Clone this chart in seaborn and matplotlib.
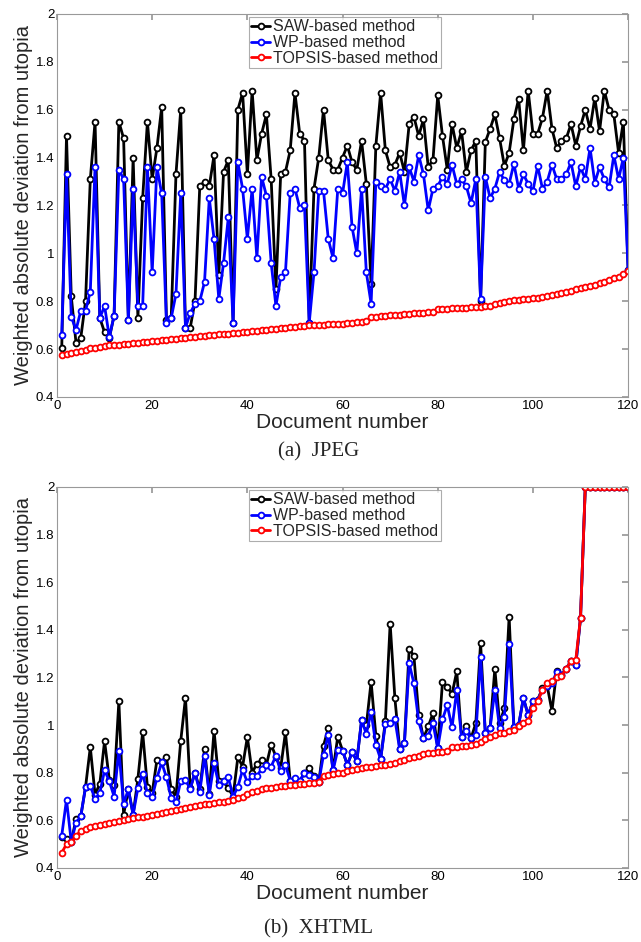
import numpy as np
import pandas as pd
import matplotlib
matplotlib.use('Agg')
import matplotlib.pyplot as plt
from matplotlib.ticker import FormatStrFormatter
import seaborn as sns

# document index 1..120
docs = list(range(1, 121))
methods = ['SAW-based method', 'WP-based method', 'TOPSIS-based method']
colors = ['black', 'blue', 'red']

# (a) JPEG
jpeg_saw = [0.605, 1.49, 0.82, 0.626, 0.647, 0.80, 1.31, 1.55, 0.73, 0.67,
            0.647, 0.74, 1.55, 1.48, 0.72, 1.40, 0.73, 1.23, 1.55, 1.31,
            1.44, 1.61, 0.72, 0.73, 1.33, 1.60, 0.69, 0.69, 0.80, 1.28,
            1.30, 1.28, 1.41, 0.91, 1.34, 1.39, 0.71, 1.60, 1.67, 1.33,
            1.68, 1.39, 1.50, 1.58, 1.31, 0.85, 1.33, 1.34, 1.43, 1.67,
            1.50, 1.47, 0.71, 1.27, 1.40, 1.60, 1.39, 1.35, 1.35, 1.40,
            1.45, 1.38, 1.35, 1.47, 1.29, 0.87, 1.45, 1.67, 1.43, 1.36,
            1.37, 1.42, 1.34, 1.54, 1.57, 1.49, 1.56, 1.36, 1.39, 1.66,
            1.49, 1.35, 1.54, 1.44, 1.51, 1.34, 1.43, 1.47, 0.80, 1.465,
            1.52, 1.58, 1.48, 1.365, 1.42, 1.56, 1.645, 1.43, 1.68, 1.50,
            1.50, 1.565, 1.68, 1.52, 1.44, 1.47, 1.48, 1.54, 1.45, 1.53,
            1.60, 1.52, 1.65, 1.51, 1.68, 1.60, 1.58, 1.42, 1.55, 0.93]
jpeg_wp = [0.66, 1.33, 0.735, 0.68, 0.76, 0.76, 0.84, 1.36, 0.73, 0.78,
           0.65, 0.74, 1.35, 1.31, 0.72, 1.27, 0.78, 0.78, 1.36, 0.92,
           1.36, 1.25, 0.71, 0.73, 0.83, 1.25, 0.69, 0.75, 0.79, 0.80,
           0.88, 1.23, 1.06, 0.81, 0.96, 1.15, 0.71, 1.38, 1.27, 1.06,
           1.27, 0.98, 1.32, 1.24, 0.96, 0.78, 0.90, 0.92, 1.25, 1.27,
           1.19, 1.20, 0.71, 0.92, 1.26, 1.26, 1.06, 0.98, 1.27, 1.25,
           1.38, 1.11, 1.00, 1.27, 0.92, 0.79, 1.30, 1.28, 1.27, 1.31,
           1.26, 1.34, 1.20, 1.36, 1.30, 1.41, 1.33, 1.18, 1.27, 1.28,
           1.32, 1.29, 1.37, 1.29, 1.31, 1.28, 1.21, 1.31, 0.81, 1.32,
           1.23, 1.27, 1.34, 1.305, 1.29, 1.375, 1.27, 1.33, 1.29, 1.26,
           1.365, 1.27, 1.30, 1.37, 1.31, 1.31, 1.33, 1.38, 1.28, 1.36,
           1.31, 1.44, 1.295, 1.36, 1.31, 1.275, 1.41, 1.31, 1.40, 0.93]
jpeg_topsis = [0.575, 0.578, 0.582, 0.586, 0.592, 0.598, 0.603, 0.606, 0.609, 0.612,
               0.615, 0.617, 0.619, 0.621, 0.623, 0.625, 0.627, 0.629, 0.631, 0.633,
               0.635, 0.637, 0.639, 0.641, 0.643, 0.645, 0.647, 0.649, 0.651, 0.653,
               0.655, 0.657, 0.659, 0.661, 0.663, 0.665, 0.667, 0.669, 0.671, 0.673,
               0.675, 0.677, 0.679, 0.681, 0.683, 0.685, 0.687, 0.689, 0.691, 0.693,
               0.695, 0.697, 0.699, 0.700, 0.701, 0.702, 0.703, 0.704, 0.705, 0.706,
               0.708, 0.710, 0.712, 0.714, 0.717, 0.733, 0.735, 0.737, 0.739, 0.741,
               0.742, 0.744, 0.746, 0.747, 0.749, 0.751, 0.752, 0.754, 0.756, 0.766,
               0.768, 0.769, 0.770, 0.771, 0.772, 0.773, 0.774, 0.775, 0.776, 0.778,
               0.782, 0.787, 0.792, 0.797, 0.800, 0.803, 0.806, 0.809, 0.811, 0.813,
               0.815, 0.818, 0.821, 0.825, 0.829, 0.834, 0.839, 0.844, 0.849, 0.854,
               0.860, 0.865, 0.869, 0.875, 0.880, 0.887, 0.895, 0.902, 0.912, 0.928]

# (b) XHTML
xhtml_saw = [0.53, 0.52, 0.51, 0.606, 0.617, 0.74, 0.907, 0.708, 0.754, 0.933,
             0.77, 0.75, 1.10, 0.624, 0.73, 0.624, 0.775, 0.97, 0.74, 0.715,
             0.854, 0.845, 0.864, 0.73, 0.70, 0.933, 1.115, 0.735, 0.80, 0.73,
             0.899, 0.71, 0.977, 0.764, 0.764, 0.736, 0.70, 0.865, 0.826, 0.95,
             0.80, 0.838, 0.854, 0.833, 0.917, 0.868, 0.82, 0.969, 0.767, 0.77,
             0.764, 0.80, 0.82, 0.785, 0.76, 0.913, 0.987, 0.81, 0.952, 0.893,
             0.833, 0.885, 0.85, 1.02, 1.00, 1.182, 0.955, 0.857, 1.017, 1.426,
             1.112, 0.899, 0.924, 1.321, 1.289, 1.043, 0.945, 0.994, 1.05, 0.903,
             1.182, 1.161, 1.13, 1.226, 0.949, 0.998, 0.945, 1.008, 1.345, 0.965,
             0.987, 1.236, 1.007, 1.07, 1.455, 0.993, 1.0, 1.113, 1.042, 1.10,
             1.106, 1.155, 1.164, 1.059, 1.228, 1.21, 1.236, 1.27, 1.252, 1.45,
             2.0, 2.0, 2.0, 2.0, 2.0, 2.0, 2.0, 2.0, 2.0, 2.0]
xhtml_wp = [0.536, 0.687, 0.51, 0.59, 0.617, 0.74, 0.745, 0.69, 0.715, 0.81,
            0.764, 0.70, 0.893, 0.67, 0.73, 0.624, 0.736, 0.795, 0.715, 0.697,
            0.778, 0.843, 0.78, 0.694, 0.677, 0.764, 0.768, 0.733, 0.80, 0.719,
            0.871, 0.708, 0.840, 0.75, 0.764, 0.78, 0.70, 0.74, 0.812, 0.76,
            0.787, 0.787, 0.815, 0.833, 0.826, 0.871, 0.806, 0.833, 0.767, 0.778,
            0.764, 0.80, 0.79, 0.782, 0.76, 0.875, 0.959, 0.81, 0.896, 0.893,
            0.833, 0.885, 0.85, 1.02, 0.963, 1.056, 0.917, 0.857, 1.003, 1.008,
            1.024, 0.899, 0.924, 1.259, 1.175, 1.015, 0.945, 0.956, 1.008, 0.903,
            1.024, 1.084, 0.99, 1.147, 0.949, 0.973, 0.945, 0.959, 1.286, 0.965,
            0.987, 1.147, 0.987, 1.035, 1.34, 0.993, 1.0, 1.113, 1.042, 1.10,
            1.106, 1.147, 1.164, 1.175, 1.224, 1.21, 1.236, 1.27, 1.252, 1.45,
            2.0, 2.0, 2.0, 2.0, 2.0, 2.0, 2.0, 2.0, 2.0, 2.0]
xhtml_topsis = [0.464, 0.500, 0.507, 0.536, 0.555, 0.565, 0.572, 0.576, 0.580, 0.584,
                0.588, 0.592, 0.596, 0.600, 0.604, 0.608, 0.612, 0.616, 0.620, 0.624,
                0.628, 0.632, 0.636, 0.640, 0.644, 0.648, 0.652, 0.656, 0.660, 0.664,
                0.667, 0.670, 0.673, 0.676, 0.679, 0.682, 0.686, 0.693, 0.700, 0.710,
                0.718, 0.725, 0.730, 0.734, 0.737, 0.740, 0.743, 0.746, 0.748, 0.750,
                0.752, 0.754, 0.756, 0.758, 0.760, 0.788, 0.791, 0.794, 0.797, 0.800,
                0.806, 0.810, 0.814, 0.818, 0.822, 0.825, 0.828, 0.831, 0.834, 0.837,
                0.842, 0.848, 0.854, 0.860, 0.866, 0.872, 0.877, 0.881, 0.884, 0.886,
                0.888, 0.890, 0.906, 0.909, 0.912, 0.914, 0.916, 0.920, 0.930, 0.940,
                0.952, 0.958, 0.965, 0.968, 0.975, 0.980, 0.996, 1.007, 1.018, 1.070,
                1.100, 1.147, 1.175, 1.186, 1.200, 1.206, 1.236, 1.270, 1.273, 1.451,
                2.0, 2.0, 2.0, 2.0, 2.0, 2.0, 2.0, 2.0, 2.0, 2.0]

x_ticks = [0, 20, 40, 60, 80, 100, 120]
y_ticks = [0.4, 0.6, 0.8, 1.0, 1.2, 1.4, 1.6, 1.8, 2.0]

sns.set_theme(style='white')
plt.rcParams['font.family'] = ['Liberation Sans', 'DejaVu Sans']

fig = plt.figure(figsize=(6.41, 9.42), dpi=100)
ax_a = fig.add_axes([0.0889, 0.5786, 0.891, 0.4066])
ax_b = fig.add_axes([0.0889, 0.0786, 0.891, 0.4045])

panels = [(ax_a, [jpeg_saw, jpeg_wp, jpeg_topsis], '(a)  JPEG', 0.520),
          (ax_b, [xhtml_saw, xhtml_wp, xhtml_topsis], '(b)  XHTML', 0.0135)]

for ax, series, caption, cap_y in panels:
    for name, vals, c in zip(methods, series, colors):
        df = pd.DataFrame({'doc': docs, 'value': vals})
        sns.lineplot(data=df, x='doc', y='value', ax=ax, color=c,
                     marker='o', markersize=4.2, markerfacecolor='white',
                     markeredgecolor=c, markeredgewidth=1.3, linewidth=2,
                     estimator=None, label=name)
    ax.set_xlim(0, 120)
    ax.set_ylim(0.4, 2.0)
    ax.set_xticks(x_ticks)
    ax.set_yticks(y_ticks)
    ax.yaxis.set_major_formatter(FormatStrFormatter('%g'))
    ax.tick_params(direction='in', length=4, top=True, right=True,
                   colors='#999999', labelcolor='black', labelsize=9.5, pad=2)
    for sp in ax.spines.values():
        sp.set_color('#999999')
        sp.set_linewidth(0.8)
    ax.set_xlabel('Document number', fontsize=15, labelpad=1)
    ax.set_ylabel('Weighted absolute deviation from utopia', fontsize=14.5, labelpad=2)
    leg = ax.legend(loc='upper center', bbox_to_anchor=(0.504, 0.992),
                    fancybox=False, frameon=True, edgecolor='#999999',
                    fontsize=11.5, handlelength=1.2, handletextpad=0.2,
                    borderpad=0.15, labelspacing=0.05, borderaxespad=0)
    leg.get_frame().set_linewidth(0.8)
    fig.text(0.497, cap_y, caption, ha='center', va='center',
             fontsize=15, family=['Liberation Serif', 'DejaVu Serif'])

fig.savefig('out.png', dpi=100)
